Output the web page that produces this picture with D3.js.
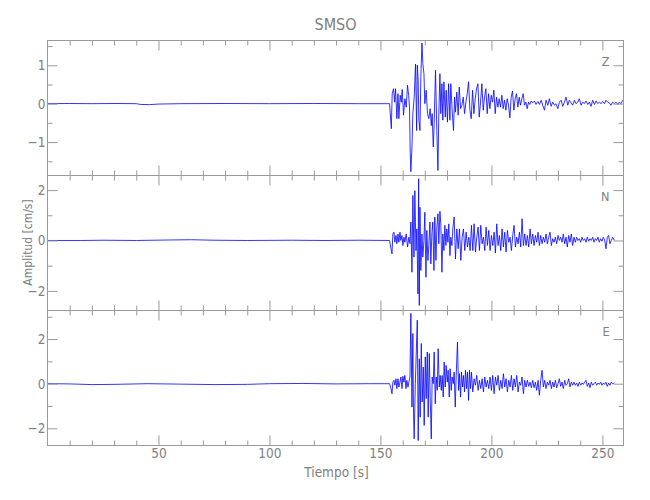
<!DOCTYPE html>
<html><head><meta charset="utf-8">
<script src="https://cdn.jsdelivr.net/npm/d3@7/dist/d3.min.js"></script>
<style>
body{margin:0;background:#fff}
text{font-family:"Liberation Sans Narrow","DejaVu Sans Condensed",sans-serif;fill:#808080}
</style>
</head><body>
<svg id="chart" width="650" height="500"></svg>
<script>
// ---------- data ----------
const title = "SMSO";
const xLabel = "Tiempo [s]";
const yLabel = "Amplitud [cm/s]";
const channels = ["Z", "N", "E"];
const xDomain = [0, 259.5];
const xMajorTicks = [50, 100, 150, 200, 250];
const xMinorTicks = [10,20,30,40,60,70,80,90,110,120,130,140,160,170,180,190,210,220,230,240];
const yDomainZ = [-1.87, 1.645];
const yDomainN = [-2.78, 2.58];
const yDomainE = [-2.77, 3.28];
const yMajorZ = [-1, 0, 1];
const yMinorZ = [-1.5, -0.5, 0.5, 1.5];
const yMajorN = [-2, 0, 2];
const yMinorN = [-1, 1];
const yMajorE = [-2, 0, 2];
const yMinorE = [-1, 1, 3];

// [time s, amplitude cm/s]
const traceZ = [[0,0],[10,0.005],[20,0],[30,0.005],[40,0],[42,-0.02],[46,-0.025],[50,-0.01],[60,0],[80,0.005],[100,0],[120,0.005],[140,0],[154.1,0],
[154.9,-0.65],[155.3,0.26],[155.9,0.39],[156.4,0.04],[156.8,0.39],[157.4,-0.39],[157.9,0.26],[158.3,-0.39],[158.9,0.22],[159.4,0.04],[159.8,0.37],[160.4,-0.30],[161.0,0.13],[161.6,-0.09],[162.2,0.48],[162.7,0.22],[163.1,-0.09],[163.4,-1.26],[163.7,-1.77],[164.2,-1.13],[164.6,-0.26],[165.2,0.17],[165.8,1.03],[166.3,-0.70],[166.6,1.00],[167.0,0.61],[167.3,-0.43],[167.8,-0.70],[168.2,0.70],[168.7,1.58],[169.1,1.04],[169.6,0.78],[170.0,0],[170.6,0.35],[171.2,-0.26],[171.8,-0.39],[172.4,-0.13],[172.9,-0.57],[173.3,-0.26],[173.8,-1.13],[174.2,-0.52],[174.8,0.87],[175.4,-0.70],[175.9,-1.74],[176.3,-0.26],[176.8,0.78],[177.2,-0.26],[177.7,0.52],[178.1,-0.43],[178.6,0.57],[179.2,-0.35],[179.6,0.35],[180.2,-0.48],[180.7,0.52],[181.3,-0.43],[181.7,0.52],[182.3,-0.17],[182.9,-0.70],[183.4,0.17],[183.8,-0.22],[184.4,0.30],[185.0,-0.30],[185.5,0.43],[186.1,-0.13],[186.7,-0.04],[187.3,0.17],[187.9,-0.26],[188.5,0.04],[189.1,0.26],[189.7,0.57],[190.3,-0.17],[190.9,-0.39],[191.5,0.35],[192.1,-0.26],[192.7,0.13],[193.3,0.39],[193.9,0.52],[194.5,-0.35],[195.1,0.04],[195.7,0.52],[196.3,-0.17],[196.9,0.17],[197.5,0.39],[198.1,-0.26],[198.7,0.26],[199.3,-0.13],[199.9,0.22],[200.5,0.04],[201.1,0.35],[201.7,-0.26],[202.3,0.17],[202.9,-0.09],[203.5,0.13],[204.1,-0.09],[204.7,0.22],[205.3,-0.13],[205.9,0.09],[206.5,-0.17],[207.1,0.13],[207.7,-0.04],[208.3,-0.37],[208.9,0.17],[209.5,0.33],[210.1,-0.17],[210.7,0.13],[211.3,0.26],[211.9,-0.09],[212.5,0.17],[213.1,-0.04],[213.7,0.13],[214.3,0.26],[214.9,-0.04],[215.5,0.04],[216.1,-0.13],[216.7,0.04],[217.3,-0.02],[217.9,0.07],[218.6,0.02],[219.4,0.07],[220.1,-0.02],[220.9,0.06],[221.6,-0.02],[222.4,0.09],[223.1,-0.04],[223.9,-0.17],[224.6,0.09],[225.4,-0.04],[226.1,0.13],[226.9,-0.07],[227.6,0.04],[228.4,-0.04],[229.1,0],[229.9,-0.13],[230.6,0.04],[231.4,0.09],[232.1,-0.07],[232.9,0.04],[233.6,0.17],[234.4,-0.04],[235.1,0.09],[235.9,0.02],[236.6,-0.04],[237.4,0.09],[238.1,0],[238.9,0.04],[239.6,0.13],[240.4,-0.04],[241.1,0.04],[241.9,0],[242.6,0.07],[243.4,-0.02],[244.1,0.04],[244.9,-0.07],[245.6,0.09],[246.4,-0.02],[247.1,0.07],[247.9,0],[248.6,0.04],[249.4,0],[250.1,0.06],[250.9,0],[251.6,0.09],[252.4,0.04],[253.1,0.02],[253.9,-0.04],[254.6,0.04],[255.4,0],[256.1,0.04],[256.9,-0.02],[257.6,0.04],[258.4,0],[259.1,0.09]];

const traceN = [[0,0],[15,0],[25,0.01],[40,0],[55,0.02],[65,0.03],[75,0.01],[90,0],[110,0.01],[125,0],[140,0.01],[154.1,0],
[154.7,-0.3],[155.2,-0.53],[155.6,0.26],[156.1,0.33],[156.5,-0.07],[157.0,0.20],[157.4,-0.13],[157.9,0.26],[158.3,-0.07],[158.8,0.33],[159.2,0],[159.7,0.20],[160.1,-0.20],[160.6,0.13],[161.0,-0.07],[161.6,0.26],[162.2,-0.26],[162.8,0.13],[163.3,-0.13],[163.7,0.73],[164.2,-1.26],[164.6,1.79],[165.1,-0.66],[165.5,1.98],[166.0,-0.40],[166.4,0.46],[166.9,-2.12],[167.2,2.45],[167.5,-2.58],[167.8,1.32],[168.2,-1.19],[168.7,0.26],[169.1,-0.66],[169.6,0],[170.0,1.12],[170.5,-1.46],[170.9,0.40],[171.4,-0.79],[171.8,-0.20],[172.3,0.73],[172.7,-0.93],[173.2,0.33],[173.6,0.73],[174.1,-1.19],[174.5,0.93],[175.0,-0.79],[175.4,0.46],[175.9,1.06],[176.3,-0.13],[176.8,1.16],[177.2,0.66],[177.7,-1.26],[178.1,0.26],[178.6,-0.40],[179.0,0.60],[179.5,-0.20],[179.9,0.46],[180.4,-0.07],[180.8,0.66],[181.3,-0.60],[181.7,0.13],[182.2,-0.20],[182.6,0.46],[183.2,0.93],[183.8,-0.73],[184.4,0.46],[185.0,-0.33],[185.6,0.46],[186.2,-0.79],[186.8,0.13],[187.4,0.46],[188.0,-0.40],[188.6,0.33],[189.2,-0.26],[189.8,0.13],[190.4,-0.40],[191.0,0.60],[191.6,-0.40],[192.2,0.66],[192.8,-0.46],[193.4,0.13],[194.0,0.53],[194.6,-0.40],[195.2,0.60],[195.8,-0.13],[196.4,0.13],[197.0,-0.40],[197.6,0.53],[198.2,-0.20],[198.8,0.40],[199.4,-0.40],[200.0,0.20],[200.6,-0.20],[201.2,0.33],[201.8,-0.50],[202.4,0.66],[203.0,-0.20],[203.6,0.20],[204.2,-0.40],[204.8,0.46],[205.4,-0.26],[206.0,0.33],[206.6,-0.46],[207.2,0.40],[207.8,-0.07],[208.4,0.13],[209.0,-0.40],[209.6,0.20],[210.2,0.60],[210.8,-0.26],[211.4,0.13],[212.0,-0.13],[212.6,0.33],[213.2,-0.26],[213.8,0.86],[214.4,-0.20],[215.0,0.26],[215.6,-0.20],[216.2,0.20],[216.8,-0.26],[217.4,0.46],[218.0,-0.13],[218.6,0.26],[219.2,-0.20],[219.8,0.20],[220.4,-0.07],[221.0,0.33],[221.6,-0.20],[222.2,0.20],[222.8,-0.13],[223.4,0.13],[224.0,-0.07],[224.6,0.26],[225.2,-0.13],[225.8,0.13],[226.4,0.33],[227.0,-0.20],[227.6,0.07],[228.2,-0.07],[228.8,0.13],[229.4,-0.13],[230.0,0.20],[230.6,0],[231.2,0.13],[231.8,-0.07],[232.4,0.26],[233.0,-0.13],[233.6,0.13],[234.2,-0.26],[234.8,0.20],[235.4,-0.07],[236.0,0.26],[236.6,-0.20],[237.2,0.13],[237.8,-0.07],[238.4,0.13],[239.0,0],[239.6,0.07],[240.2,-0.07],[240.8,0.13],[241.4,0],[242.0,0.07],[242.6,-0.07],[243.2,0.13],[243.8,-0.03],[244.4,0.07],[245.0,0],[245.6,0.13],[246.2,-0.07],[246.8,0.07],[247.4,0],[248.0,0.13],[248.6,-0.07],[249.2,0.07],[249.8,-0.03],[250.4,0.13],[251.0,0.03],[251.6,-0.33],[252.2,0.13],[252.8,0.20],[253.4,-0.13],[254.0,0],[254.6,0.13],[255.4,0]];

const traceE = [[0,0],[10,-0.01],[20,-0.04],[30,-0.03],[45,0],[60,-0.02],[75,-0.04],[90,-0.03],[100,0],[115,0.01],[130,-0.01],[145,0],[154.1,0],
[154.7,-0.2],[155.2,-0.45],[155.6,0.07],[156.1,0.15],[156.5,-0.07],[157.0,0.22],[157.4,-0.22],[157.9,0.22],[158.3,-0.15],[158.8,0.07],[159.2,0.30],[159.7,-0.22],[160.1,0.33],[160.6,0.07],[161.0,0.37],[161.5,-0.22],[161.9,0.15],[162.4,-0.15],[162.8,0.07],[163.3,0.30],[163.7,3.15],[164.2,-1.05],[164.6,2.25],[164.9,-1.35],[165.2,-2.47],[165.7,0],[166.6,2.85],[167.0,-2.55],[167.5,1.12],[167.9,-1.50],[168.4,1.80],[168.8,-0.82],[169.3,0.75],[169.7,-1.87],[170.2,1.20],[170.6,-0.67],[171.1,1.42],[171.5,-1.50],[172.0,1.35],[172.4,-0.60],[172.9,-2.47],[173.3,0.30],[173.8,0],[174.2,1.42],[174.7,-0.90],[175.1,0.30],[175.6,-0.30],[176.0,1.57],[176.5,-0.15],[176.9,0.37],[177.4,-0.30],[177.8,0.37],[178.3,-0.60],[178.7,0.97],[179.2,-0.15],[179.6,0.82],[180.1,0.07],[180.5,0.60],[181.0,-0.60],[181.4,0.67],[181.9,-0.30],[182.3,0.30],[182.8,0],[183.2,0.52],[183.7,-1.05],[184.1,0.30],[184.7,1.87],[185.2,-0.30],[185.6,0.45],[186.1,-0.60],[186.5,0.52],[187.0,-0.15],[187.4,0.37],[187.9,-0.37],[188.3,0.60],[188.8,-0.22],[189.2,0.52],[189.7,-0.75],[190.1,0.60],[190.6,-0.22],[191.0,0.52],[191.6,-0.37],[192.2,0.22],[192.8,-0.07],[193.4,0.37],[194.0,-0.30],[194.6,0.15],[195.2,-0.22],[195.8,0.22],[196.4,-0.37],[197.0,0.30],[197.6,-0.15],[198.2,0.15],[198.8,-0.22],[199.4,0.30],[200.0,-0.30],[200.6,0.37],[201.2,-0.45],[201.8,0.30],[202.4,-0.07],[203.0,0.37],[203.6,-0.30],[204.2,0.15],[204.8,-0.22],[205.4,0.45],[206.0,-0.15],[206.6,0.22],[207.2,-0.37],[207.8,0.15],[208.4,-0.15],[209.0,0.37],[209.6,-0.30],[210.2,0.22],[210.8,-0.15],[211.4,0.37],[212.0,-0.37],[212.6,0.07],[213.2,-0.07],[213.8,0.30],[214.4,-0.45],[215.0,0.15],[215.6,-0.15],[216.2,0.15],[216.8,-0.12],[217.4,0.07],[218.0,-0.18],[218.6,0.15],[219.2,-0.18],[219.8,0.07],[220.4,-0.30],[221.0,0.15],[221.6,-0.52],[222.2,0.15],[222.8,0.60],[223.4,-0.15],[224.0,0.15],[224.6,-0.22],[225.2,0.07],[225.8,-0.07],[226.4,0.15],[227.0,-0.22],[227.6,0.07],[228.2,-0.15],[228.8,0.15],[229.4,-0.18],[230.0,0],[230.6,0.22],[231.2,-0.12],[231.8,0.07],[232.4,-0.22],[233.0,0.15],[233.6,-0.07],[234.2,0],[234.8,0.22],[235.4,-0.15],[236.0,0.07],[236.6,-0.07],[237.2,0.07],[237.8,-0.07],[238.4,0.03],[239.0,-0.12],[239.6,0.07],[240.2,-0.07],[240.8,0.03],[241.4,-0.03],[242.0,0.07],[242.6,0.15],[243.2,-0.12],[243.8,0.03],[244.4,-0.18],[245.0,0.07],[245.6,-0.07],[246.2,0],[246.8,0.07],[247.4,-0.07],[248.0,0.03],[248.6,-0.03],[249.2,0.07],[249.8,-0.07],[250.4,0.03],[251.0,-0.03],[251.6,0.07],[252.2,-0.12],[252.8,0.03],[253.4,-0.07],[254.0,0.07],[254.6,0],[255.4,0.03]];

// ---------- layout ----------
const left = 47.5, right = 623.5;
const panelTops = [40.5, 175.5, 310.5];
const panelH = 135;
const axisColor = "#9a9a9a";
const traceColor = "#0000ff";

const panels = [
  {name: channels[0], dom: yDomainZ, major: yMajorZ, minor: yMinorZ, data: traceZ},
  {name: channels[1], dom: yDomainN, major: yMajorN, minor: yMinorN, data: traceN},
  {name: channels[2], dom: yDomainE, major: yMajorE, minor: yMinorE, data: traceE}
];

const svg = d3.select("#chart");
const x = d3.scaleLinear().domain(xDomain).range([left, right]);

function styleAxis(g) {
  g.select(".domain").remove();
  g.selectAll(".tick line").attr("stroke", axisColor).attr("stroke-width", 1);
  g.selectAll(".tick text").attr("fill", "#808080").style("font-size", "13.5px")
    .style("font-family", '"Liberation Sans Narrow","DejaVu Sans Condensed",sans-serif');
}

panels.forEach((p, i) => {
  const top = panelTops[i], bottom = top + panelH;
  const y = d3.scaleLinear().domain(p.dom).range([bottom, top]);
  const isLast = i === panels.length - 1;

  const line = d3.line().x(d => x(d[0])).y(d => y(d[1]));
  svg.append("path").datum(p.data)
    .attr("fill", "none").attr("stroke", traceColor)
    .attr("stroke-width", 0.8).attr("stroke-linejoin", "round")
    .attr("d", line);

  svg.append("g").attr("transform", `translate(0,${bottom})`)
    .call(d3.axisBottom(x).tickValues(xMajorTicks).tickSizeInner(-10).tickSizeOuter(0).tickPadding(3)
      .tickFormat(isLast ? d3.format("d") : () => ""))
    .call(styleAxis);
  svg.append("g").attr("transform", `translate(0,${bottom})`)
    .call(d3.axisBottom(x).tickValues(xMinorTicks).tickSizeInner(-5).tickSizeOuter(0).tickFormat(() => ""))
    .call(styleAxis);
  svg.append("g").attr("transform", `translate(0,${top})`)
    .call(d3.axisTop(x).tickValues(xMajorTicks).tickSizeInner(-10).tickSizeOuter(0).tickFormat(() => ""))
    .call(styleAxis);
  svg.append("g").attr("transform", `translate(0,${top})`)
    .call(d3.axisTop(x).tickValues(xMinorTicks).tickSizeInner(-5).tickSizeOuter(0).tickFormat(() => ""))
    .call(styleAxis);
  svg.append("g").attr("transform", `translate(${left},0)`)
    .call(d3.axisLeft(y).tickValues(p.major).tickSizeInner(-10).tickSizeOuter(0).tickPadding(2)
      .tickFormat(d => d < 0 ? "\u2212" + Math.abs(d) : d))
    .call(styleAxis);
  svg.append("g").attr("transform", `translate(${left},0)`)
    .call(d3.axisLeft(y).tickValues(p.minor).tickSizeInner(-5).tickSizeOuter(0).tickFormat(() => ""))
    .call(styleAxis);
  svg.append("g").attr("transform", `translate(${right},0)`)
    .call(d3.axisRight(y).tickValues(p.major).tickSizeInner(-10).tickSizeOuter(0).tickFormat(() => ""))
    .call(styleAxis);
  svg.append("g").attr("transform", `translate(${right},0)`)
    .call(d3.axisRight(y).tickValues(p.minor).tickSizeInner(-5).tickSizeOuter(0).tickFormat(() => ""))
    .call(styleAxis);

  svg.append("rect").attr("x", left).attr("y", top).attr("width", right - left).attr("height", panelH)
    .attr("fill", "none").attr("stroke", axisColor).attr("stroke-width", 1);

  svg.append("text").attr("x", right - 14).attr("y", top + 25.5)
    .attr("text-anchor", "end").style("font-size", "12.5px").text(p.name);
});

svg.append("text").attr("x", (left + right) / 2).attr("y", 30)
  .attr("text-anchor", "middle").style("font-size", "16px").text(title);
svg.append("text").attr("x", (left + right) / 2 + 1).attr("y", 477)
  .attr("text-anchor", "middle").style("font-size", "13.5px").text(xLabel);
svg.append("text").attr("transform", "translate(32,242.5) rotate(-90)")
  .attr("text-anchor", "middle").style("font-size", "12px").text(yLabel);
</script>
</body></html>
